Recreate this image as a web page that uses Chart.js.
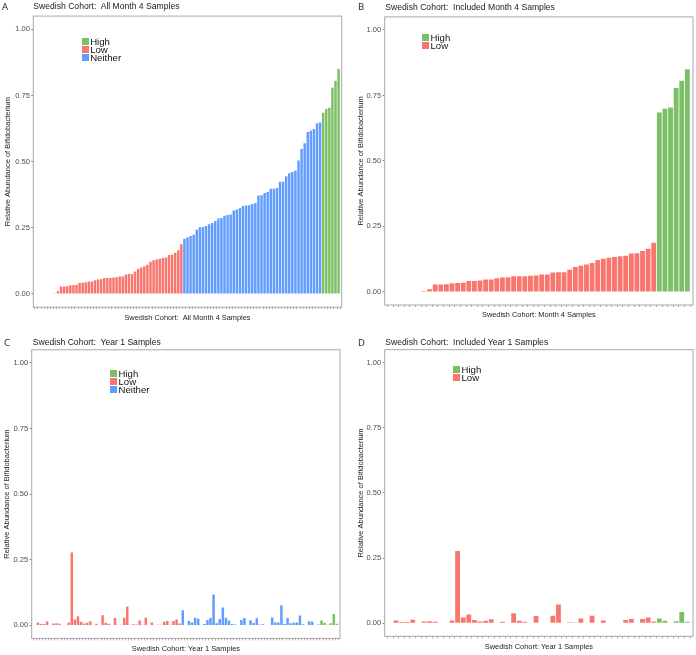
<!DOCTYPE html>
<html>
<head>
<meta charset="utf-8">
<script src="https://cdn.jsdelivr.net/npm/chart.js@4.4.1/dist/chart.umd.min.js"></script>
<style>
  body { margin: 0; background: #fff; }
  #page { position: relative; width: 696px; height: 655px; overflow: hidden; font-family: "Liberation Sans", Arial, sans-serif; }
  canvas { position: absolute; }
  .letter { position: absolute; font-family: "Open Sans", "DejaVu Sans", sans-serif; font-size: 9.5px; line-height: 1; color: #222; }
  .title { position: absolute; font-size: 8.6px; line-height: 1; color: #1a1a1a; white-space: pre; }
  .sw { position: absolute; width: 7px; height: 7px; }
  .lt { position: absolute; font-size: 9.6px; line-height: 7px; color: #111; white-space: nowrap; }
</style>
</head>
<body>
<div id="page"></div>
<script>
// groups and colours
const legendOrder = ['High', 'Low', 'Neither'];
const groupColors = { High: '#7cbf67', Low: '#f8766d', Neither: '#619cff' };
const yTicks = [0, 0.25, 0.5, 0.75, 1];

// Month 4, sorted by abundance (first six Low samples are zero)
const lowMonth4 = [0, 0, 0, 0, 0, 0,
  0.003, 0.01, 0.028, 0.028, 0.029, 0.033, 0.034, 0.035, 0.042, 0.042,
  0.044, 0.047, 0.047, 0.052, 0.055, 0.056, 0.06, 0.06, 0.06, 0.062,
  0.063, 0.066, 0.066, 0.074, 0.075, 0.075, 0.085, 0.095, 0.1, 0.105,
  0.11, 0.122, 0.127, 0.13, 0.133, 0.136, 0.138, 0.147, 0.148, 0.156,
  0.165, 0.188];
const neitherMonth4 = [0.209, 0.214, 0.219, 0.224, 0.243, 0.252, 0.253, 0.257, 0.263, 0.268,
  0.276, 0.285, 0.287, 0.296, 0.298, 0.3, 0.315, 0.319, 0.324, 0.332,
  0.334, 0.335, 0.34, 0.344, 0.372, 0.373, 0.382, 0.385, 0.398, 0.398,
  0.4, 0.424, 0.424, 0.445, 0.456, 0.461, 0.466, 0.504, 0.548, 0.57,
  0.612, 0.617, 0.623, 0.645, 0.648];
const highMonth4 = [0.685, 0.699, 0.704, 0.779, 0.806, 0.85];

// Year 1, same subjects grouped by their month 4 class
const lowYear1 = [0, 0.011, 0.005, 0.005, 0.014, 0, 0.007, 0.008, 0.006, 0,
  0, 0.011, 0.277, 0.022, 0.034, 0.013, 0.007, 0.01, 0.015, 0,
  0.006, 0, 0.038, 0.01, 0.006, 0, 0.028, 0.002, 0.002, 0.029,
  0.072, 0.002, 0.004, 0.003, 0.018, 0.002, 0.029, 0, 0.011, 0,
  0.002, 0.002, 0.013, 0.016, 0.002, 0.016, 0.022, 0.007];
const neitherYear1 = [0.057, 0, 0.016, 0.011, 0.029, 0.025, 0, 0.005, 0.02, 0.028,
  0.117, 0.008, 0.024, 0.068, 0.029, 0.018, 0.005, 0.003, 0, 0.02,
  0.028, 0, 0.019, 0.009, 0.027, 0.003, 0.004, 0, 0, 0.03,
  0.011, 0.011, 0.076, 0.005, 0.028, 0.008, 0.01, 0.011, 0.037, 0.004,
  0, 0.015, 0.013, 0, 0.003];
const highYear1 = [0.018, 0.01, 0.002, 0.008, 0.043, 0.006];

Chart.defaults.font.family = '"Liberation Sans", Arial, sans-serif';

// page coordinates of each panel (box = plot border)
const W = 348, H = 325;
const panels = [
  { letter: 'A', px: 0, py: 0, letterX: 2, letterY: 1.6, titleX: 33.3, titleY: 2.4,
    title: 'Swedish Cohort:  All Month 4 Samples', xTitle: 'Swedish Cohort:  All Month 4 Samples',
    series: [['Low', lowMonth4], ['Neither', neitherMonth4], ['High', highMonth4]],
    box: [33.3, 16.1, 341.7, 307.2], yTitleX: 8.3, xTitleY: 318, legend: [81.7, 37.7], bar: 0.8 },
  { letter: 'B', px: 348, py: 0, letterX: 358, letterY: 1.6, titleX: 385.3, titleY: 2.7,
    title: 'Swedish Cohort:  Included Month 4 Samples', xTitle: 'Swedish Cohort: Month 4 Samples',
    series: [['Low', lowMonth4], ['High', highMonth4]],
    box: [384.7, 16.9, 693, 305], yTitleX: 361, xTitleY: 315, legend: [422, 34.3], bar: 0.86 },
  { letter: 'C', px: 0, py: 330, letterX: 4, letterY: 337.6, titleX: 32.8, titleY: 338.4,
    title: 'Swedish Cohort:  Year 1 Samples', xTitle: 'Swedish Cohort: Year 1 Samples',
    series: [['Low', lowYear1], ['Neither', neitherYear1], ['High', highYear1]],
    box: [31.7, 349.8, 340, 638.4], yTitleX: 7.3, xTitleY: 649, legend: [110, 370], bar: 0.8 },
  { letter: 'D', px: 348, py: 330, letterX: 358, letterY: 338, titleX: 385.3, titleY: 338.4,
    title: 'Swedish Cohort:  Included Year 1 Samples', xTitle: 'Swedish Cohort: Year 1 Samples',
    series: [['Low', lowYear1], ['High', highYear1]],
    box: [384.7, 349.7, 693, 636.3], yTitleX: 361, xTitleY: 647, legend: [453, 366], bar: 0.86 }
];

const panelBorder = {
  id: 'panelBorder',
  afterDraw(chart) {
    const { ctx, chartArea: a } = chart;
    ctx.save();
    ctx.strokeStyle = '#a8a8a8';
    ctx.lineWidth = 1;
    ctx.strokeRect(a.left, a.top, a.right - a.left, a.bottom - a.top);
    ctx.restore();
  }
};

const page = document.getElementById('page');

function addDiv(cls, x, y, text) {
  const d = document.createElement('div');
  d.className = cls;
  d.style.left = x + 'px';
  d.style.top = y + 'px';
  if (text !== undefined) d.textContent = text;
  page.appendChild(d);
  return d;
}

panels.forEach(p => {
  const canvas = document.createElement('canvas');
  canvas.width = W; canvas.height = H;
  canvas.style.left = p.px + 'px';
  canvas.style.top = p.py + 'px';
  canvas.style.width = W + 'px';
  canvas.style.height = H + 'px';
  page.appendChild(canvas);

  // local chart area
  const l = p.box[0] - p.px, t = p.box[1] - p.py, r = p.box[2] - p.px, b = p.box[3] - p.py;
  const xFont = 7.4, yFont = 7.5;
  const scaleBottom = p.xTitleY - p.py + xFont / 2;

  let start = 0;
  const datasets = p.series.map(([g, vals]) => {
    const ds = {
      label: g,
      data: vals.map((v, i) => ({ x: start + i, y: v })),
      backgroundColor: groupColors[g],
      borderWidth: 0,
      grouped: false,
      categoryPercentage: 1,
      barPercentage: p.bar
    };
    start += vals.length;
    return ds;
  });
  const n = start;

  new Chart(canvas, {
    type: 'bar',
    data: { datasets },
    options: {
      responsive: false,
      animation: false,
      layout: { padding: { left: 0, top: t, right: W - r, bottom: H - scaleBottom } },
      plugins: { legend: { display: false }, tooltip: { enabled: false } },
      scales: {
        x: {
          type: 'linear',
          min: -0.5,
          max: n - 0.5,
          afterBuildTicks: ax => { ax.ticks = Array.from({ length: n }, (_, i) => ({ value: i })); },
          afterFit: s => { s.height = scaleBottom - b; },
          ticks: { display: false },
          grid: { drawOnChartArea: false, tickLength: 2, color: '#777', lineWidth: 0.6 },
          border: { display: false },
          title: { display: true, text: p.xTitle, color: '#222', padding: { top: 0, bottom: 0 },
                   font: { size: xFont, lineHeight: 1 } }
        },
        y: {
          min: -0.05,
          max: 1.05,
          afterBuildTicks: ax => { ax.ticks = yTicks.map(v => ({ value: v })); },
          afterFit: s => { s.width = l; },
          ticks: { color: '#4d4d4d', padding: 1.5, font: { size: 7.5 }, callback: v => Number(v).toFixed(2) },
          grid: { drawOnChartArea: false, tickLength: 2, color: '#666', lineWidth: 0.8 },
          border: { display: false },
          title: { display: true, text: 'Relative Abundance of Bifidobacterium', color: '#222',
                   padding: { top: p.yTitleX - p.px - yFont / 2, bottom: 0 },
                   font: { size: yFont, lineHeight: 1 } }
        }
      }
    },
    plugins: [panelBorder]
  });

  addDiv('letter', p.letterX, p.letterY, p.letter);
  addDiv('title', p.titleX, p.titleY, p.title);

  // legend inside the panel
  const present = p.series.map(s => s[0]);
  legendOrder.filter(g => present.includes(g)).forEach((g, k) => {
    const sw = addDiv('sw', p.legend[0], p.legend[1] + k * 8);
    sw.style.background = groupColors[g];
    addDiv('lt', p.legend[0] + 8.5, p.legend[1] + k * 8, g);
  });
});
</script>
</body>
</html>
